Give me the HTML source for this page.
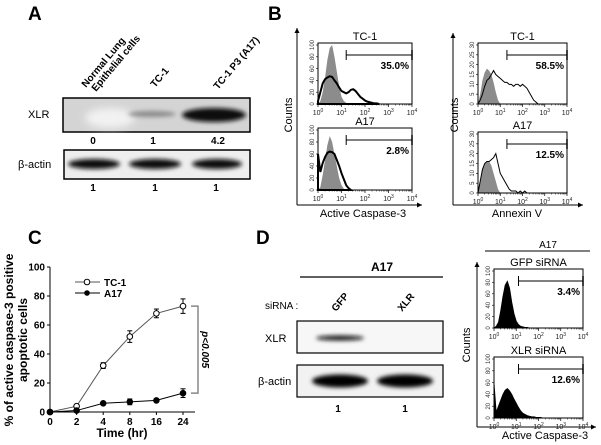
<!DOCTYPE html>
<html><head><meta charset="utf-8"><style>
html,body{margin:0;padding:0;background:#fff}
svg{display:block;font-family:"Liberation Sans",Arial,sans-serif}
</style></head><body>
<svg id="fig" width="601" height="445" viewBox="0 0 601 445">
<defs>
<filter id="bl" x="-20%" y="-100%" width="140%" height="300%"><feGaussianBlur stdDeviation="2"/></filter>
<filter id="bl2" x="-20%" y="-100%" width="140%" height="300%"><feGaussianBlur stdDeviation="4"/></filter>
</defs>

<!-- Panel A -->
<g>
<text x="28" y="20" font-size="19" font-weight="bold">A</text>
<g font-size="10" font-weight="bold">
<text transform="translate(86,88) rotate(-50)">Normal Lung</text>
<text transform="translate(96,92) rotate(-50)">Epithelial cells</text>
<text transform="translate(155,88) rotate(-50)">TC-1</text>
<text transform="translate(218,90) rotate(-50)">TC-1 P3 (A17)</text>
</g>
<text x="28" y="118" font-size="11">XLR</text>
<rect x="63" y="98" width="187" height="34" fill="#d4d4d4" stroke="#000" stroke-width="1.5"/>
<ellipse cx="110" cy="118" rx="25" ry="10" fill="#f2f2f2" filter="url(#bl2)"/>
<ellipse cx="152" cy="114" rx="24" ry="3" fill="#8a8a8a" filter="url(#bl)"/>
<ellipse cx="214" cy="115" rx="32" ry="7" fill="#111" filter="url(#bl)"/>
<g font-size="10" font-weight="bold" text-anchor="middle">
<text x="93" y="144">0</text>
<text x="153" y="144">1</text>
<text x="218" y="144">4.2</text>
</g>
<text x="18" y="168" font-size="11">β-actin</text>
<rect x="64" y="150" width="186" height="29" fill="#eeeeee" stroke="#000" stroke-width="1.5"/>
<ellipse cx="94" cy="164" rx="26" ry="5" fill="#111" filter="url(#bl)"/>
<ellipse cx="155" cy="164" rx="26" ry="5" fill="#111" filter="url(#bl)"/>
<ellipse cx="217" cy="164" rx="25" ry="5" fill="#111" filter="url(#bl)"/>
<g font-size="10" font-weight="bold" text-anchor="middle">
<text x="93" y="191">1</text><text x="155" y="191">1</text><text x="216" y="191">1</text>
</g>
</g>

<!-- Panel B -->
<g id="panelB">
<text x="268" y="20" font-size="19" font-weight="bold">B</text>
</g>

<!-- Panel C -->
<g id="panelC">
<text x="28" y="244" font-size="19" font-weight="bold">C</text>
</g>

<!-- Panel D -->
<g id="panelD">
<text x="256" y="244" font-size="19" font-weight="bold">D</text>
<text x="382" y="271" font-size="12" font-weight="bold" text-anchor="middle">A17</text>
<line x1="300" y1="277" x2="443" y2="277" stroke="#000" stroke-width="1.2"/>
<text x="265" y="309" font-size="10">siRNA :</text>
<text transform="translate(336,312) rotate(-50)" font-size="10" font-weight="bold">GFP</text>
<text transform="translate(402,312) rotate(-50)" font-size="10" font-weight="bold">XLR</text>
<text x="265" y="342" font-size="11">XLR</text>
<rect x="297" y="321" width="146" height="32" fill="#f7f7f7" stroke="#000" stroke-width="1.2"/>
<ellipse cx="340" cy="338" rx="24" ry="2.5" fill="#111" filter="url(#bl)"/>
<text x="258" y="385" font-size="11">β-actin</text>
<rect x="297" y="365" width="146" height="32" fill="#f2f2f2" stroke="#000" stroke-width="1.2"/>
<ellipse cx="340" cy="381" rx="28" ry="6.5" fill="#000" filter="url(#bl)"/>
<ellipse cx="405" cy="381" rx="28" ry="6.5" fill="#000" filter="url(#bl)"/>
<g font-size="10" font-weight="bold" text-anchor="middle">
<text x="338" y="412">1</text><text x="405" y="412">1</text>
</g>
<text x="548" y="248" font-size="10" text-anchor="middle">A17</text>
<line x1="485" y1="251" x2="590" y2="251" stroke="#000" stroke-width="1"/>
</g>

<script>
// ---------- Panel C data ----------
const timeLabels = ["0","2","4","8","16","24"];
const tc1Values = [0,4,32,52,68,73];
const tc1Errors = [0,1,2,4,3,5];
const a17Values = [0,1,6,7,8,13];
const a17Errors = [0,0.5,1,2,1,3];
const yTicks = [0,20,40,60,80,100];

// ---------- Histogram data (counts at log10 intensity 0,0.1,0.2,...) ----------
const tc1IsoCasp = [0,5,20,45,75,95,100,80,55,30,12,5,2,0];
const tc1Casp = [5,20,35,42,45,47,46,40,35,28,22,20,18,20,24,25,22,17,12,9,6,4,3,2,1,1,0];
const a17IsoCasp = [0,5,25,50,75,90,80,60,40,20,8,2,0];
const a17Casp = [60,30,45,55,62,64,63,60,50,40,28,18,8,3,0];
const tc1IsoAnx = [0,5,12,16,18,17,15,11,6,2,0];
const tc1Anx = [0,2,5,9,12,13,15,17,15,14,13,12,11,11,10,10,9,10,10,9,10,9,8,6,4,2,1,0];
const a17IsoAnx = [0,6,12,15,16,16,14,10,6,2,0];
const a17Anx = [0,6,12,15,16,16,17,18,20,15,10,8,6,4,2,1,1,1,0,1,0,1,0];
const gfpCasp = [0,3,10,30,55,75,82,70,45,25,12,6,3,2,1,1,0];
const xlrCasp = [60,10,20,30,40,47,50,46,40,32,25,18,12,8,6,4,3,2,2,1,1,1,0];

const NS = "http://www.w3.org/2000/svg";
function mk(parent, tag, attrs){
  const e = document.createElementNS(NS, tag);
  for (const k in attrs) e.setAttribute(k, attrs[k]);
  parent.appendChild(e); return e;
}

// ---------- Panel C chart ----------
(function(){
  const g = document.getElementById('panelC');
  const x0 = 50, x1 = 195, yTop = 267, yBot = 412;
  const xStep = 26.6;
  const xS = i => x0 + i * xStep;
  const yS = v => yBot - (v / 100) * (yBot - yTop);
  let e = mk(g,'line',{x1:x0,y1:yTop,x2:x0,y2:yBot,stroke:'#000','stroke-width':1});
  
  
  e = mk(g,'line',{x1:x0,y1:yBot,x2:x1,y2:yBot,stroke:'#000','stroke-width':1});
  
  
  yTicks.forEach(v=>{
    mk(g,'line',{x1:x0-3,y1:yS(v),x2:x0,y2:yS(v),stroke:'#000'});
    const t = mk(g,'text',{x:x0-5,y:yS(v)+3.5,'font-size':10,'font-weight':'bold','text-anchor':'end'});
    t.textContent = v;
    
    
  });
  timeLabels.forEach((l,i)=>{
    mk(g,'line',{x1:xS(i),y1:yBot,x2:xS(i),y2:yBot+3,stroke:'#000'});
    const t = mk(g,'text',{x:xS(i),y:yBot+13,'font-size':10,'font-weight':'bold','text-anchor':'middle'});
    t.textContent = l;
    
    
  });
  let t = mk(g,'text',{x:122,y:437,'font-size':12,'font-weight':'bold','text-anchor':'middle'});
  t.textContent = 'Time (hr)';
  
  
  t = mk(g,'text',{transform:'translate(13,340) rotate(-90)','font-size':12,'font-weight':'bold','text-anchor':'middle'});
  t.textContent = '% of active caspase-3 positive';
  
  
  t = mk(g,'text',{transform:'translate(27,340) rotate(-90)','font-size':12,'font-weight':'bold','text-anchor':'middle'});
  t.textContent = 'apoptotic cells';
  
  

  function series(vals, errs, filled, name){
    const pts = vals.map((v,i)=>xS(i)+','+yS(v)).join(' ');
    const pl = mk(g,'polyline',{points:pts,fill:'none',stroke:filled?'#000':'#555','stroke-width':1});
    
    
    vals.forEach((v,i)=>{
      if (errs[i]>0){
        mk(g,'line',{x1:xS(i),y1:yS(v+errs[i]),x2:xS(i),y2:yS(v-errs[i]),stroke:'#000'});
        mk(g,'line',{x1:xS(i)-2.5,y1:yS(v+errs[i]),x2:xS(i)+2.5,y2:yS(v+errs[i]),stroke:'#000'});
        mk(g,'line',{x1:xS(i)-2.5,y1:yS(v-errs[i]),x2:xS(i)+2.5,y2:yS(v-errs[i]),stroke:'#000'});
      }
      const c = mk(g,'circle',{cx:xS(i),cy:yS(v),r:2.8,fill:filled?'#000':'#fff',stroke:'#000','stroke-width':1});
      
      
    });
  }
  series(tc1Values,tc1Errors,false,'tc1');
  series(a17Values,a17Errors,true,'a17');
  // legend
  mk(g,'line',{x1:75,y1:282,x2:100,y2:282,stroke:'#555'});
  mk(g,'circle',{cx:87,cy:282,r:2.8,fill:'#fff',stroke:'#000'});
  t = mk(g,'text',{x:104,y:286,'font-size':10,'font-weight':'bold'}); t.textContent='TC-1';
  
  
  mk(g,'line',{x1:75,y1:293,x2:100,y2:293,stroke:'#000'});
  mk(g,'circle',{cx:87,cy:293,r:2.8,fill:'#000'});
  t = mk(g,'text',{x:104,y:297,'font-size':10,'font-weight':'bold'}); t.textContent='A17';
  
  
  // significance bracket
  const bx = 198, by1 = yS(tc1Values[5]), by2 = yS(a17Values[5]);
  mk(g,'polyline',{points:`${xS(5)+8},${by1} ${bx},${by1} ${bx},${by2} ${xS(5)+8},${by2}`,fill:'none',stroke:'#888','stroke-width':1.5});
  t = mk(g,'text',{transform:`translate(${bx+4},${(by1+by2)/2}) rotate(90)`,'font-size':10,'font-style':'italic','font-weight':'bold','text-anchor':'middle'});
  t.textContent='p<0.005';
  
  
})();

// ---------- Histograms ----------
function histBox(g, x, y, w, h, ymax, ticks, title, pct, gateX, iso, sample, sampleFill, sw, name){
  const fx = lv => x + (lv/4)*w;
  const fy = c => y + h - (Math.min(c,ymax)/ymax)*(h-2);
  let r = mk(g,'rect',{x:x,y:y,width:w,height:h,fill:'#fff',stroke:'#000','stroke-width':1});
  
  
  function area(arr, fill, stroke, sw){
    let d = `M${fx(0)},${y+h}`;
    arr.forEach((c,i)=>{ d += ` L${fx(i*0.1)},${fy(c)}`; });
    d += ` L${fx((arr.length-1)*0.1)},${y+h} Z`;
    return mk(g,'path',{d:d,fill:fill,stroke:stroke,'stroke-width':sw});
  }
  if (iso){ const p = area(iso,'#8c8c8c','none',0);
    
     }
  if (sample){ const p = area(sample, sampleFill, '#000', sw);
    
     }
  // gate
  const gx = fx(gateX), gy = y+12;
  mk(g,'line',{x1:gx,y1:gy,x2:x+w,y2:gy,stroke:'#000'});
  mk(g,'line',{x1:gx,y1:gy-5,x2:gx,y2:gy+5,stroke:'#000'});
  mk(g,'line',{x1:x+w,y1:gy-5,x2:x+w,y2:gy+5,stroke:'#000','stroke-width':1.5});
  let t = mk(g,'text',{x:x+w-3,y:gy+14,'font-size':10,'font-weight':'bold','text-anchor':'end'});
  t.textContent = pct;
  
  
  t = mk(g,'text',{x:x+w/2,y:y-3,'font-size':11,'text-anchor':'middle'});
  t.textContent = title;
  
  
  // y ticks
  ticks.forEach(v=>{
    const yy = fy(v);
    mk(g,'line',{x1:x-2,y1:yy,x2:x,y2:yy,stroke:'#000','stroke-width':0.6});
    const tt = mk(g,'text',{transform:`translate(${x-4},${yy}) rotate(-90)`,'font-size':6,'text-anchor':'middle',fill:'#333'});
    tt.textContent = v;
  });
  // x decades
  for (let k=0;k<=4;k++){
    mk(g,'line',{x1:fx(k),y1:y+h,x2:fx(k),y2:y+h+3,stroke:'#000','stroke-width':0.7});
    const tt = mk(g,'text',{x:fx(k),y:y+h+11,'font-size':7,'text-anchor':'middle',fill:'#222'});
    tt.textContent = '10';
    const sup = mk(tt,'tspan',{dy:-3,'font-size':5}); sup.textContent = k;
    if (k<4) for (let m=2;m<10;m++){
      const xx = fx(k+Math.log10(m));
      mk(g,'line',{x1:xx,y1:y+h,x2:xx,y2:y+h+1.5,stroke:'#000','stroke-width':0.5});
    }
  }
}
function axesArrow(g, ax, ayTop, ayBot, axRight, label, lx, countsX, countsY, name){
  mk(g,'line',{x1:ax,y1:ayBot,x2:ax,y2:ayTop,stroke:'#000','stroke-width':1});
  mk(g,'polygon',{points:`${ax-2.5},${ayTop+5} ${ax+2.5},${ayTop+5} ${ax},${ayTop}`,fill:'#000'});
  mk(g,'line',{x1:ax,y1:ayBot,x2:axRight,y2:ayBot,stroke:'#000','stroke-width':1});
  mk(g,'polygon',{points:`${axRight-5},${ayBot-2.5} ${axRight-5},${ayBot+2.5} ${axRight},${ayBot}`,fill:'#000'});
  let t = mk(g,'text',{x:lx,y:ayBot+12,'font-size':11,'text-anchor':'middle'});
  t.textContent = label;
  
  
  t = mk(g,'text',{transform:`translate(${countsX},${countsY}) rotate(-90)`,'font-size':11,'text-anchor':'middle'});
  t.textContent = 'Counts';
  
  
}
(function(){
  const g = document.getElementById('panelB');
  axesArrow(g, 297, 28, 205, 422, 'Active Caspase-3', 363, 292, 115, 'caspase');
  histBox(g, 318, 43, 94, 61, 100, [0,20,40,60,80,100], 'TC-1', '35.0%', 1.2, tc1IsoCasp, tc1Casp, 'none', 2, 'tc1-caspase');
  histBox(g, 318, 128, 94, 62, 100, [0,20,40,60,80,100], 'A17', '2.8%', 1.2, a17IsoCasp, a17Casp, 'none', 2, 'a17-caspase');
  axesArrow(g, 453, 33, 205, 583, 'Annexin V', 517, 458, 115, 'annexin');
  histBox(g, 478, 43, 89, 61, 30, [0,5,10,15,20,25,30], 'TC-1', '58.5%', 1.3, tc1IsoAnx, tc1Anx, 'none', 1, 'tc1-annexin');
  histBox(g, 478, 132, 89, 61, 30, [0,5,10,15,20,25,30], 'A17', '12.5%', 1.3, a17IsoAnx, a17Anx, 'none', 1, 'a17-annexin');
  const d = document.getElementById('panelD');
  axesArrow(d, 477, 262, 427, 596, 'Active Caspase-3', 545, 470, 345, 'sirna-caspase');
  histBox(d, 494, 269, 89, 59, 100, [0,20,40,60,80,100], 'GFP siRNA', '3.4%', 1.1, null, gfpCasp, '#000', 0.8, 'gfp-sirna');
  histBox(d, 494, 357, 89, 61, 100, [0,20,40,60,80,100], 'XLR siRNA', '12.6%', 1.1, null, xlrCasp, '#000', 0.8, 'xlr-sirna');
})();
</script>
</svg>
</body></html>
